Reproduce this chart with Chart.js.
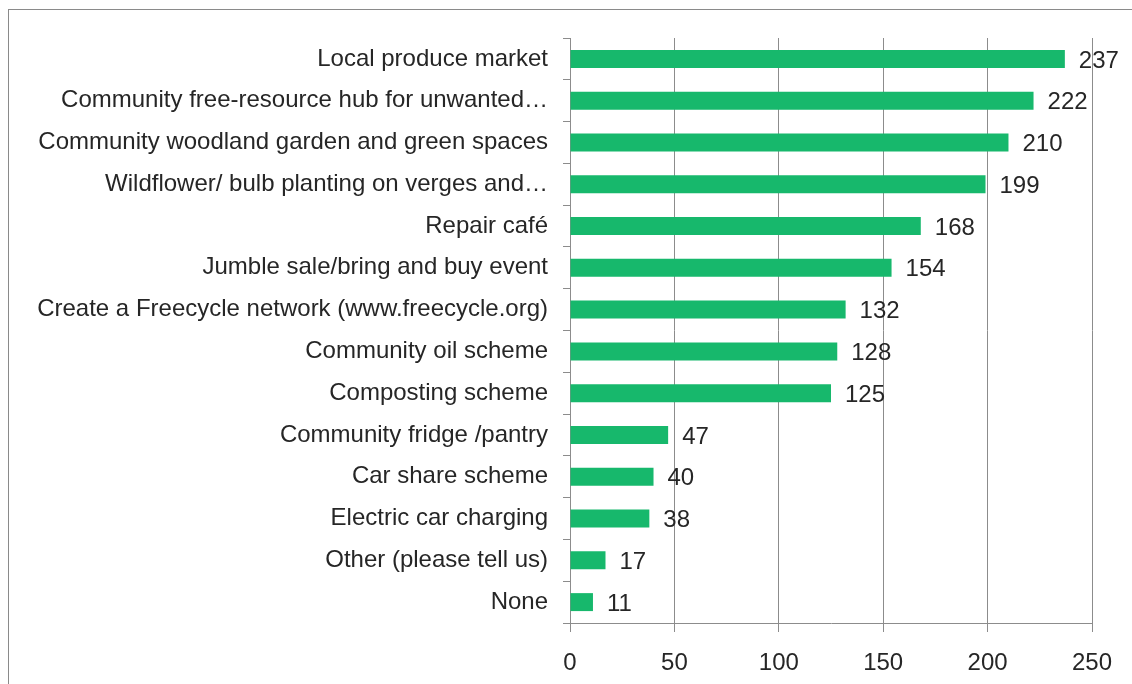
<!DOCTYPE html>
<html>
<head>
<meta charset="utf-8">
<script src="https://cdn.jsdelivr.net/npm/chart.js@4"></script>
<style>
  body { margin: 0; background: #fff; }
  #wrap { position: relative; width: 1132px; height: 684px; }
  #frame { position: absolute; left: 8px; top: 9px; width: 1200px; height: 800px;
           border-top: 1px solid #8a8a8a; border-left: 1px solid #8a8a8a; }
  canvas { position: absolute; left: 0; top: 0; }
</style>
</head>
<body>
<div id="wrap">
  <div id="frame"></div>
  <canvas id="chart"></canvas>
</div>
<script>
var categories = [
  'Local produce market',
  'Community free-resource hub for unwanted\u2026',
  'Community woodland garden and green spaces',
  'Wildflower/ bulb planting on verges and\u2026',
  'Repair caf\u00e9',
  'Jumble sale/bring and buy event',
  'Create a Freecycle network (www.freecycle.org)',
  'Community oil scheme',
  'Composting scheme',
  'Community fridge /pantry',
  'Car share scheme',
  'Electric car charging',
  'Other (please tell us)',
  'None'
];
var counts = [237, 222, 210, 199, 168, 154, 132, 128, 125, 47, 40, 38, 17, 11];
var xTicks = [0, 50, 100, 150, 200, 250];

var fontFamily = '"Liberation Sans", Arial, sans-serif';
var textColor = '#262626';
var lineColor = '#8c8c8c';

// value labels at the end of each bar
var barLabels = {
  id: 'barLabels',
  afterDatasetsDraw(chart) {
    var ctx = chart.ctx;
    var meta = chart.getDatasetMeta(0);
    ctx.save();
    ctx.font = '24px ' + fontFamily;
    ctx.fillStyle = textColor;
    ctx.textAlign = 'left';
    ctx.textBaseline = 'middle';
    meta.data.forEach(function (bar, i) {
      ctx.fillText(String(counts[i]), bar.x + 14, bar.y + 2);
    });
    ctx.restore();
  }
};

new Chart(document.getElementById('chart'), {
  type: 'bar',
  data: {
    labels: categories,
    datasets: [{
      data: counts,
      backgroundColor: '#17b86c',
      categoryPercentage: 1,
      barPercentage: 0.43
    }]
  },
  options: {
    indexAxis: 'y',
    responsive: true,
    maintainAspectRatio: false,
    animation: false,
    layout: { padding: { left: 0, right: 40, top: 38, bottom: 0 } },
    plugins: {
      legend: { display: false },
      tooltip: { enabled: false }
    },
    scales: {
      x: {
        min: 0,
        max: 250,
        afterBuildTicks: function (s) { s.ticks = xTicks.map(function (v) { return { value: v }; }); },
        afterFit: function (s) { s.height = 61; },
        grid: { color: lineColor, tickLength: 9, drawTicks: true },
        border: { color: lineColor },
        ticks: { color: textColor, font: { family: fontFamily, size: 24 }, padding: 17 }
      },
      y: {
        afterFit: function (s) { s.width = 570; },
        grid: { offset: true, drawOnChartArea: false, color: lineColor, tickLength: 7 },
        border: { color: lineColor },
        ticks: { color: textColor, font: { family: fontFamily, size: 24 }, padding: 15, autoSkip: false }
      }
    }
  },
  plugins: [barLabels]
});
</script>
</body>
</html>
